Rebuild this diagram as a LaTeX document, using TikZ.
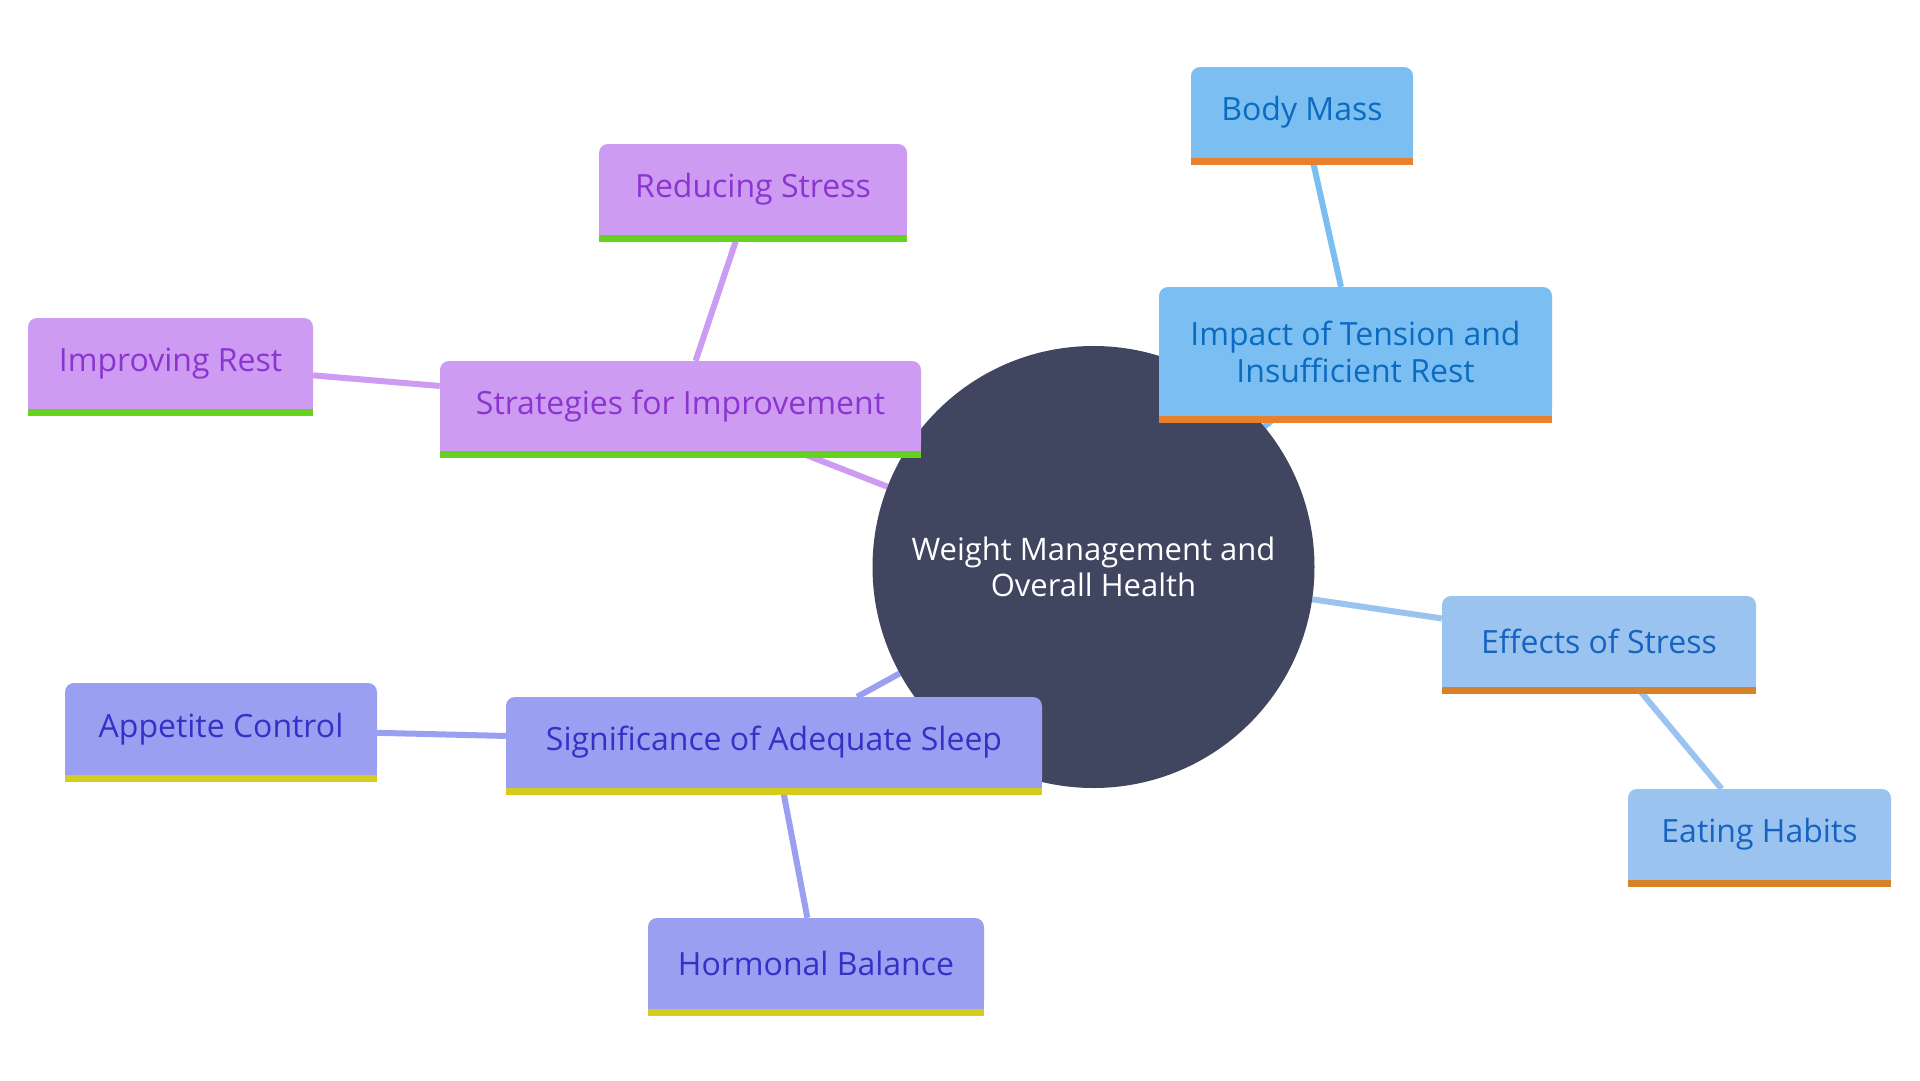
\documentclass[tikz,border=0pt]{standalone}
\usepackage{fontspec}
\setmainfont{Open Sans}
\usetikzlibrary{backgrounds}
\definecolor{cdark}{HTML}{404660}
\definecolor{bAfill}{HTML}{7BBFF2}\definecolor{bAtext}{HTML}{0A6BC0}\definecolor{bAbar}{HTML}{E8802E}
\definecolor{bBfill}{HTML}{9BC3EF}\definecolor{bBtext}{HTML}{1763C1}\definecolor{bBbar}{HTML}{D6822A}
\definecolor{pfill}{HTML}{CE9BF3}\definecolor{ptext}{HTML}{8B35D0}\definecolor{pbar}{HTML}{66D11F}
\definecolor{ifill}{HTML}{9A9FF2}\definecolor{itext}{HTML}{3730C6}\definecolor{ibar}{HTML}{D5CC1E}
\tikzset{
  box/.style={rounded corners=9pt, inner sep=0pt, align=center,
    font=\fontsize{32}{37}\selectfont},
  boxA/.style={box, fill=bAfill, text=bAtext},
  boxB/.style={box, fill=bBfill, text=bBtext},
  boxP/.style={box, fill=pfill, text=ptext},
  boxI/.style={box, fill=ifill, text=itext},
  link/.style={line width=6pt},
}
\begin{document}
\begin{tikzpicture}[x=1pt,y=-1pt]
\useasboundingbox (0,0) rectangle (1920,1080);
% center
\node[circle, fill=cdark, minimum size=442pt, inner sep=0pt] (c) at (1093.5,567) {};
\node[text=white, align=center, font=\fontsize{31}{36}\selectfont] (ct) at (1093.5,567) {Weight Management and\\Overall Health};
% nodes (body part above bar)
\node[boxA, minimum width=222pt, minimum height=91pt] (bm) at (1302,112.5) {Body Mass};
\node[boxA, minimum width=393pt, minimum height=129pt] (imp) at (1355.5,351.5) {Impact of Tension and\\Insufficient Rest};
\node[boxB, minimum width=314pt, minimum height=91pt] (eff) at (1599,641.5) {Effects of Stress};
\node[boxB, minimum width=263pt, minimum height=91pt] (eat) at (1759.5,834.5) {Eating Habits};
\node[boxP, minimum width=308pt, minimum height=91pt] (red) at (753,189.5) {Reducing Stress};
\node[boxP, minimum width=481pt, minimum height=90pt] (str) at (680.5,406) {Strategies for Improvement};
\node[boxP, minimum width=285pt, minimum height=91pt] (imr) at (170.5,363.5) {Improving Rest};
\node[boxI, minimum width=312pt, minimum height=92pt] (app) at (221,729) {Appetite Control};
\node[boxI, minimum width=536pt, minimum height=91pt] (sig) at (774,742.5) {Significance of Adequate Sleep};
\node[boxI, minimum width=336pt, minimum height=91pt] (hor) at (816,963.5) {Hormonal Balance};
% bars
\foreach \n/\f/\b in {bm/bAfill/bAbar, imp/bAfill/bAbar, eff/bBfill/bBbar, eat/bBfill/bBbar,
  red/pfill/pbar, str/pfill/pbar, imr/pfill/pbar, app/ifill/ibar, sig/ifill/ibar, hor/ifill/ibar}{
  \fill[\f] (\n.south west) rectangle ([yshift=10pt]\n.south east);
  \fill[\b] (\n.south west) rectangle ([yshift=-7pt]\n.south east);
}
% connectors
\begin{scope}[on background layer]
\fill[white] (0,0) rectangle (1920,1080);
\draw[link, bAfill] (c) -- (imp);
\draw[link, bAfill] (imp) -- (bm);
\draw[link, bBfill] (c) -- (eff);
\draw[link, bBfill] (eff) -- (eat);
\draw[link, pfill] (c) -- (str);
\draw[link, pfill] (str) -- (red);
\draw[link, pfill] (str) -- (imr);
\draw[link, ifill] (c) -- (sig);
\draw[link, ifill] (sig) -- (app);
\draw[link, ifill] (sig) -- (hor);
\end{scope}
\end{tikzpicture}
\end{document}
